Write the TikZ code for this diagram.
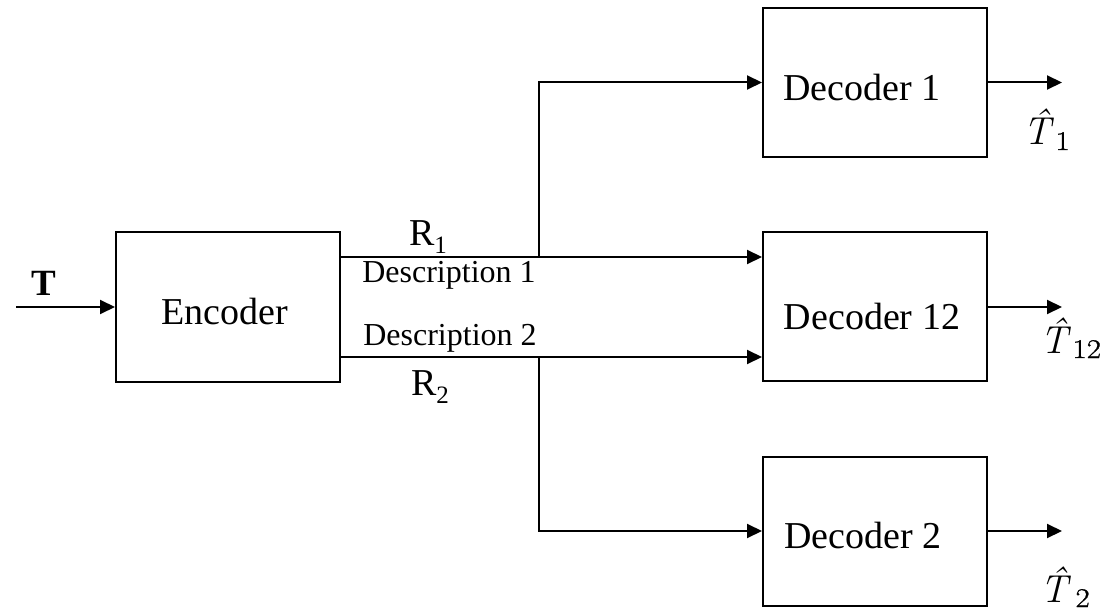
\documentclass[tikz,border=0pt]{standalone}
\usepackage{fontspec}
\setmainfont{Liberation Serif}
\newfontfamily\lmfont{Latin Modern Roman}
\newfontfamily\lmsub[FakeStretch=1.15,FakeBold=1]{Latin Modern Roman}
\usetikzlibrary{arrows.meta}
% estimate label: italic T with a circumflex above it, and a lowered index
\newcommand{\hatT}{\makebox[0pt][l]{\kern7pt\raisebox{9pt}{\char"02C6}}T}
\newcommand{\estlabel}[2]{{\fontsize{39}{41}\selectfont\lmfont\itshape\hatT}\kern#2\raisebox{-5pt}{\fontsize{27}{27}\selectfont\lmsub #1}}
\begin{document}
\begin{tikzpicture}[x=1pt,y=-1pt,
  box/.style={draw, line width=2pt, minimum width=224pt, minimum height=149pt, inner sep=0pt},
  lbl/.style={inner sep=0pt, font=\fontsize{38}{40}\selectfont},
  small/.style={inner sep=0pt, font=\fontsize{32}{34}\selectfont},
  hatlbl/.style={inner sep=0pt, anchor=base west},
  wire/.style={line width=2pt},
  arr/.style={wire, -{Triangle[length=15pt,width=14pt]}}]
\useasboundingbox (0,0) rectangle (1113,612);

% blocks
\node[box, minimum height=150pt] (enc) at (228,307) {};
\node[box] (d1)  at (875,82.5) {};
\node[box] (d12) at (875,306.5) {};
\node[box] (d2)  at (875,531) {};

% block texts
\node[lbl] (tenc) at (225,312) {Encoder};
\node[lbl] (td1)  at (862,88)  {Decoder 1};
\node[lbl] (td12) at (872,317) {Decoder 12};
\node[lbl] (td2)  at (863,535) {Decoder 2};

% input
\coordinate (in) at (16,307);
\draw[arr] (in) -- (enc.west);
\node[inner sep=0pt, font=\fontsize{37}{39}\selectfont\bfseries] (tT) at (44,283) {T};

% the two descriptions
\coordinate (b1) at (539,257);
\coordinate (b2) at (539,357);
\draw[arr] (enc.east |- b1) -- (d12.west |- b1);
\draw[arr] (enc.east |- b2) -- (d12.west |- b2);
\draw[arr] (b1) |- (d1.west);
\draw[arr] (b2) |- (d2.west);

\node[lbl] (r1) at (428,237) {R\raisebox{-0.22em}{\fontsize{25}{25}\selectfont 1}};
\node[lbl] (r2) at (430,387) {R\raisebox{-0.22em}{\fontsize{25}{25}\selectfont 2}};
\node[small] (desc1) at (449,275) {Description 1};
\node[small] (desc2) at (450,338) {Description 2};

% outputs
\coordinate (o1)  at (1062,82.5);
\coordinate (o12) at (1062,307);
\coordinate (o2)  at (1062,531);
\draw[arr] (d1.east) -- (o1);
\draw[arr] (d12.east |- o12) -- (o12);
\draw[arr] (d2.east) -- (o2);

\node[hatlbl] (e1)  at (1023,145) {\estlabel{1}{5pt}};
\node[hatlbl] (e12) at (1040,353) {\estlabel{12}{5pt}};
\node[hatlbl] (e2)  at (1040,602) {\estlabel{2}{8pt}};
\end{tikzpicture}
\end{document}
